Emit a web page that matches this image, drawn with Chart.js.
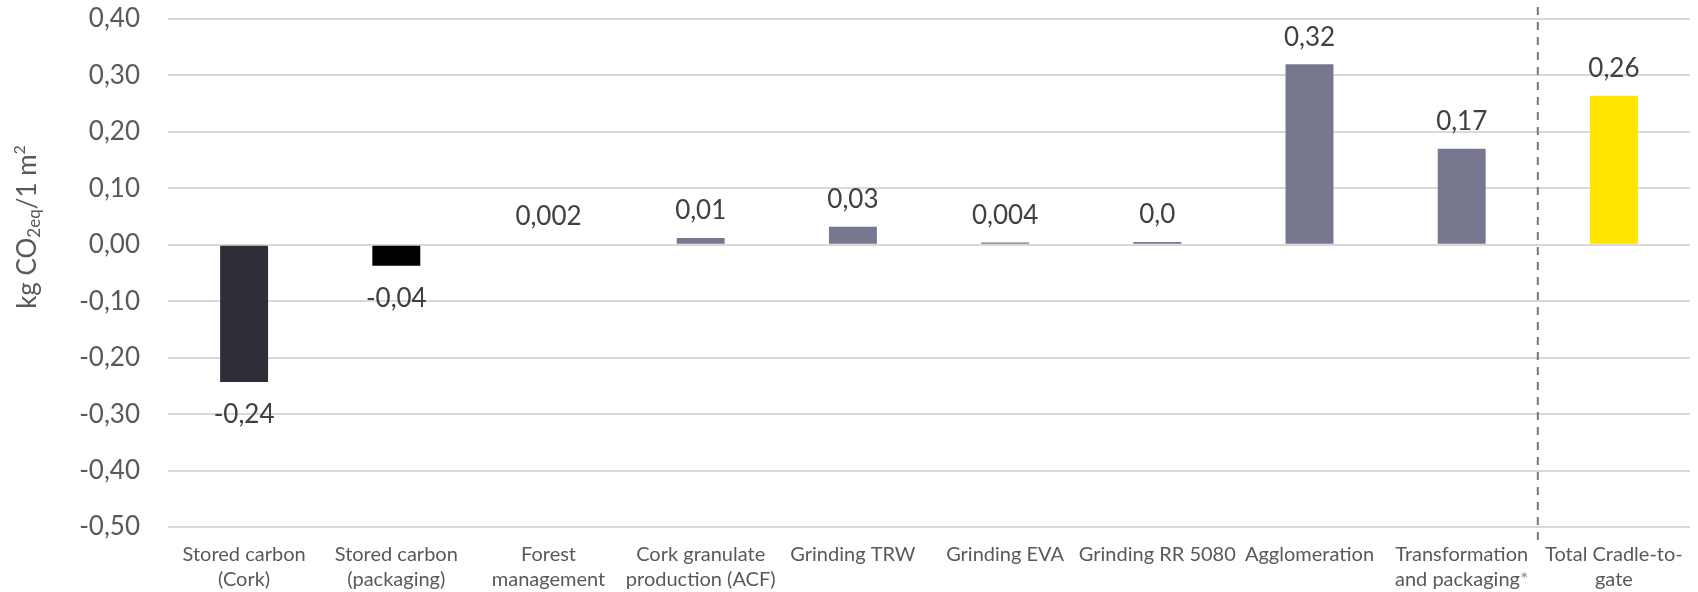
<!DOCTYPE html>
<html>
<head>
<meta charset="utf-8">
<script src="https://cdn.jsdelivr.net/npm/chart.js@4/dist/chart.umd.min.js"></script>
<style>
  html, body { margin: 0; padding: 0; background: #ffffff; }
  #wrap { width: 1698px; height: 592px; position: relative; }
</style>
</head>
<body>
<div id="wrap"><canvas id="c" width="1698" height="592"></canvas></div>
<script>
// Life-cycle stages (each entry is a list of label lines)
const categories = [
  ["Stored carbon", "(Cork)"],
  ["Stored carbon", "(packaging)"],
  ["Forest", "management"],
  ["Cork granulate", "production (ACF)"],
  ["Grinding TRW"],
  ["Grinding EVA"],
  ["Grinding RR 5080"],
  ["Agglomeration"],
  ["Transformation", "and packaging*"],
  ["Total Cradle-to-", "gate"]
];

// kg CO2eq per 1 m2
const values = [-0.243, -0.037, 0.002, 0.012, 0.032, 0.004, 0.005, 0.32, 0.17, 0.264];

// decimals shown in each value label
const labelDecimals = [2, 2, 3, 2, 2, 3, 1, 2, 2, 2];

const barColors = ["#2e2e38", "#000000", "#77778f", "#77778f", "#77778f",
                   "#77778f", "#77778f", "#77778f", "#77778f", "#ffe500"];

const yTicks = [0.4, 0.3, 0.2, 0.1, 0.0, -0.1, -0.2, -0.3, -0.4, -0.5];

const FONT = "Lato, 'Open Sans', sans-serif";
const fmt = (v, d) => v.toFixed(d).replace(".", ",");

// rotated y-axis title with subscript / superscript parts
const axisTitlePlugin = {
  id: "axisTitle",
  afterDraw(chart) {
    const ctx = chart.ctx;
    const parts = [
      { t: "kg CO", size: 26, dy: 0 },
      { t: "2eq", size: 17, dy: 7 },
      { t: "/1 m", size: 26, dy: 0 },
      { t: "2", size: 16, dy: -8 }
    ];
    ctx.save();
    let total = 0;
    parts.forEach(p => { ctx.font = p.size + "px " + FONT; p.w = ctx.measureText(p.t).width; total += p.w; });
    ctx.translate(28, 227);
    ctx.rotate(-Math.PI / 2);
    ctx.fillStyle = "#595959";
    ctx.textBaseline = "middle";
    ctx.textAlign = "left";
    let x = -total / 2;
    parts.forEach(p => {
      ctx.font = p.size + "px " + FONT;
      ctx.fillText(p.t, x, p.dy);
      x += p.w;
    });
    ctx.restore();
  }
};

// category labels below the plot, with the footnote mark in a lighter tint
const categoryLabelPlugin = {
  id: "categoryLabels",
  afterDraw(chart) {
    const ctx = chart.ctx;
    const xs = chart.scales.x;
    const top = chart.chartArea.bottom;
    ctx.save();
    ctx.font = "20px " + FONT;
    ctx.textBaseline = "middle";
    ctx.textAlign = "left";
    categories.forEach((lines, i) => {
      const cx = xs.getPixelForValue(i);
      lines.forEach((line, j) => {
        const y = top + 28 + j * 25;
        const star = line.endsWith("*");
        const main = star ? line.slice(0, -1) : line;
        const wMain = ctx.measureText(main).width;
        const wStar = star ? ctx.measureText("*").width : 0;
        let x = cx - (wMain + wStar) / 2;
        ctx.fillStyle = "#595959";
        ctx.fillText(main, x, y);
        if (star) {
          ctx.fillStyle = "#8c8ca8";
          ctx.fillText("*", x + wMain, y);
        }
      });
    });
    ctx.restore();
  }
};

// value labels above positive bars and below negative ones
const valueLabelPlugin = {
  id: "valueLabels",
  afterDatasetsDraw(chart) {
    const ctx = chart.ctx;
    const meta = chart.getDatasetMeta(0);
    ctx.save();
    ctx.font = "26px " + FONT;
    ctx.fillStyle = "#404040";
    ctx.textAlign = "center";
    ctx.textBaseline = "middle";
    meta.data.forEach((bar, i) => {
      const v = values[i];
      const y = v >= 0 ? bar.y - 27 : bar.y + 33;
      ctx.fillText(fmt(v, labelDecimals[i]), bar.x, y);
    });
    ctx.restore();
  }
};

// dashed separator before the cradle-to-gate total
const separatorPlugin = {
  id: "separator",
  afterDraw(chart) {
    const ctx = chart.ctx;
    const xs = chart.scales.x;
    const n = categories.length;
    const x = (xs.getPixelForValue(n - 2) + xs.getPixelForValue(n - 1)) / 2;
    ctx.save();
    ctx.strokeStyle = "#75758f";
    ctx.lineWidth = 2;
    ctx.setLineDash([8, 7]);
    ctx.beginPath();
    ctx.moveTo(x, 7);
    ctx.lineTo(x, 546);
    ctx.stroke();
    ctx.restore();
  }
};

new Chart(document.getElementById("c"), {
  type: "bar",
  data: {
    labels: categories,
    datasets: [{
      data: values,
      backgroundColor: barColors,
      borderWidth: 0,
      barPercentage: 1,
      categoryPercentage: 0.315
    }]
  },
  options: {
    responsive: false,
    animation: false,
    layout: { padding: { top: 19, right: 8, left: 0, bottom: 0 } },
    plugins: { legend: { display: false }, tooltip: { enabled: false } },
    scales: {
      x: {
        grid: { display: false },
        border: { display: false },
        ticks: { display: false },
        afterFit(scale) { scale.height = 65; }
      },
      y: {
        min: -0.5,
        max: 0.4,
        afterBuildTicks(scale) { scale.ticks = yTicks.map(v => ({ value: v })); },
        grid: { color: "#d9d9d9", lineWidth: 2, drawTicks: false },
        border: { display: false },
        ticks: {
          padding: 28,
          color: "#595959",
          font: { family: FONT, size: 26 },
          callback: v => fmt(v, 2)
        },
        afterFit(scale) {
          scale.width = 168;
          scale.paddingTop = 0;
          scale.paddingBottom = 0;
        }
      }
    }
  },
  plugins: [axisTitlePlugin, categoryLabelPlugin, valueLabelPlugin, separatorPlugin]
});
</script>
</body>
</html>
